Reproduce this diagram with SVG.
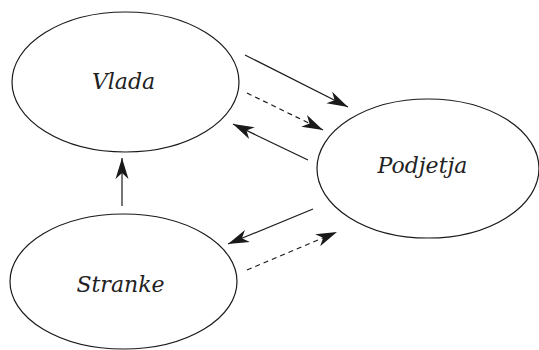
<svg xmlns="http://www.w3.org/2000/svg" width="539" height="350" viewBox="0 0 539 350">
<style>
.node ellipse{fill:#fff;stroke:#1a1a1a;stroke-width:1.2}
.node text{font-family:"DejaVu Serif","Liberation Serif",serif;font-style:italic;font-size:22px;fill:#222;text-anchor:middle}
.edge{stroke:#1a1a1a;stroke-width:1.2;fill:none;marker-end:url(#ah)}
.dash{stroke-dasharray:5 4}
</style>
<defs>
<marker id="ah" markerUnits="userSpaceOnUse" markerWidth="24" markerHeight="16" viewBox="-22 -8 24 16" refX="0" refY="0" orient="auto">
<path d="M0,0 L-21,-6.5 L-15,0 L-21,6.5 Z" fill="#1a1a1a"/>
</marker>
</defs>
<rect width="539" height="350" fill="#fff"/>
<g id="vlada" class="node">
<ellipse cx="125.5" cy="82" rx="113.5" ry="70"/>
<text x="123.5" y="89">Vlada</text>
</g>
<g id="podjetja" class="node">
<ellipse cx="428" cy="168.5" rx="111" ry="69.5"/>
<text x="422.5" y="173">Podjetja</text>
</g>
<g id="stranke" class="node">
<ellipse cx="123.5" cy="281.5" rx="113.5" ry="67.5"/>
<text x="120.5" y="292">Stranke</text>
</g>
<g id="connectors">
<line class="edge" x1="122" y1="206" x2="122" y2="158"/>
<line class="edge" x1="245" y1="55" x2="348" y2="107"/>
<line class="edge dash" x1="247" y1="93" x2="323" y2="130"/>
<line class="edge" x1="308" y1="160" x2="233" y2="124"/>
<line class="edge" x1="313" y1="209" x2="228" y2="244"/>
<line class="edge dash" x1="247" y1="270" x2="337" y2="232"/>
</g>
</svg>
